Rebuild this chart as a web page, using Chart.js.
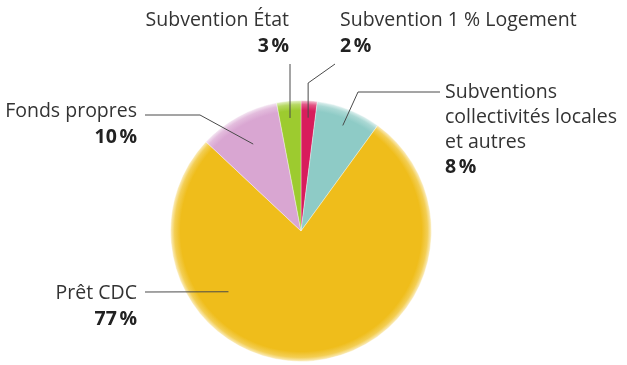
<!DOCTYPE html>
<html>
<head>
<meta charset="utf-8">
<script src="https://cdn.jsdelivr.net/npm/chart.js@4.4.1/dist/chart.umd.min.js"></script>
<style>
  html, body { margin: 0; padding: 0; background: #fff; }
  #wrap { width: 627px; height: 365px; }
</style>
</head>
<body>
<div id="wrap"><canvas id="financeChart" width="627" height="365"></canvas></div>
<script>
// data, clockwise from 12 o'clock
const labels = ['Subvention 1 % Logement', 'Subventions collectivités locales et autres', 'Prêt CDC', 'Fonds propres', 'Subvention État'];
const values = [2, 8, 77, 10, 3];
const colors = ['#d81c5c', '#8ecbc6', '#efbd1b', '#d9a6d2', '#9dcb2f'];

// how each label is set out on the page (text lines, where the leader goes)
const callouts = [
  { lines: ['Subvention 1 % Logement'], x: 340, y: 20, align: 'left', path: [[335, 64], [308, 83]], frac: 0.5, rf: 0.87, elbowX: true },
  { lines: ['Subventions', 'collectivités locales', 'et autres'], x: 445, y: 92, align: 'left', path: [[440, 92], [358, 92]], frac: 0.5, rf: 0.87 },
  { lines: ['Prêt CDC'], x: 137, y: 293, align: 'right', path: [[145, 292]], frac: 0.7, rf: 0.725 },
  { lines: ['Fonds propres'], x: 137, y: 111, align: 'right', path: [[145, 115], [200, 115]], frac: 0.5, rf: 0.76 },
  { lines: ['Subvention État'], x: 289, y: 20, align: 'right', path: [[290, 64]], frac: 0.5, rf: 0.87, straight: true }
];

const FONT = '"Open Sans", "Noto Sans", sans-serif';
const SIZE = 19.5;

function mix(hex, t) {
  const n = parseInt(hex.slice(1), 16);
  const r = (n >> 16) & 255, g = (n >> 8) & 255, b = n & 255;
  const m = c => Math.round(c + (255 - c) * t);
  return `rgb(${m(r)}, ${m(g)}, ${m(b)})`;
}

const callout = {
  id: 'callout',
  afterDatasetsDraw(chart) {
    const ctx = chart.ctx;
    const arcs = chart.getDatasetMeta(0).data;
    ctx.save();
    callouts.forEach((c, i) => {
      const a = arcs[i];
      const ang = a.startAngle + (a.endAngle - a.startAngle) * c.frac;
      const r = a.outerRadius * c.rf;
      const ax = a.x + Math.cos(ang) * r;
      const ay = a.y + Math.sin(ang) * r;

      ctx.strokeStyle = '#4a4a4a';
      ctx.lineWidth = 1;
      ctx.beginPath();
      c.path.forEach((p, k) => {
        let px = p[0];
        if (c.elbowX && k === c.path.length - 1) px = ax;
        k === 0 ? ctx.moveTo(px, p[1]) : ctx.lineTo(px, p[1]);
      });
      ctx.lineTo(c.straight ? c.path[0][0] : ax, ay);
      ctx.stroke();

      ctx.textAlign = c.align;
      ctx.textBaseline = 'middle';
      ctx.fillStyle = '#333';
      ctx.font = SIZE + 'px ' + FONT;
      c.lines.forEach((t, k) => ctx.fillText(t, c.x, c.y + k * 25));
      ctx.fillStyle = '#222';
      ctx.font = 'bold ' + SIZE + 'px ' + FONT;
      ctx.fillText(values[i] + '\u202F%', c.x, c.y + c.lines.length * 25 + (c.lines.length === 1 ? 1 : 0));
    });
    ctx.restore();
  }
};

new Chart(document.getElementById('financeChart'), {
  type: 'pie',
  data: {
    labels: labels,
    datasets: [{
      data: values,
      backgroundColor: (c) => {
        const area = c.chart.chartArea;
        const base = colors[c.dataIndex];
        if (!area) return base;
        const cx = (area.left + area.right) / 2, cy = (area.top + area.bottom) / 2;
        const R = Math.min(area.width, area.height) / 2;
        const g = c.chart.ctx.createRadialGradient(cx, cy, 0, cx, cy, R);
        g.addColorStop(0, base);
        g.addColorStop(0.92, base);
        g.addColorStop(0.965, mix(base, 0.25));
        g.addColorStop(1, mix(base, 0.8));
        return g;
      },
      borderWidth: 1,
      borderColor: 'rgba(255,255,255,0.35)'
    }]
  },
  options: {
    responsive: false,
    animation: false,
    layout: { padding: { left: 170, right: 195, top: 100, bottom: 3 } },
    plugins: {
      legend: { display: false },
      tooltip: { enabled: false }
    }
  },
  plugins: [callout]
});
</script>
</body>
</html>
